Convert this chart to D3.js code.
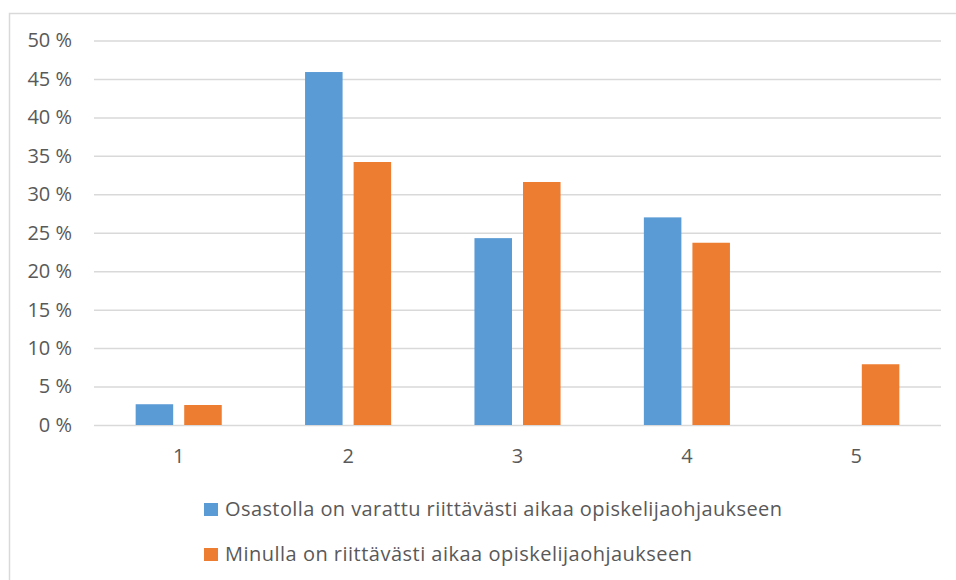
<!DOCTYPE html>
<html>
<head>
<meta charset="utf-8">
<script src="https://cdn.jsdelivr.net/npm/d3@7"></script>
<style>
  html, body { margin: 0; padding: 0; background: #fff; }
  svg { display: block; }
  text { font-family: "Open Sans", "Liberation Sans", sans-serif; fill: #595959; }
</style>
</head>
<body>
<svg id="chart" width="956" height="580"></svg>
<script>
// Vastausvaihtoehdot (asteikko 1–5)
const categories = ["1", "2", "3", "4", "5"];
// Sarjojen nimet
const seriesNames = [
  "Osastolla on varattu riittävästi aikaa opiskelijaohjaukseen",
  "Minulla on riittävästi aikaa opiskelijaohjaukseen"
];
// Vastausten osuudet prosentteina
const osastollaValues = [2.7, 45.9, 24.3, 27.0, 0];
const minullaValues = [2.6, 34.2, 31.6, 23.7, 7.9];
// Y-akselin jakoviivat
const yTicks = [0, 5, 10, 15, 20, 25, 30, 35, 40, 45, 50];

const seriesValues = [osastollaValues, minullaValues];
const colors = ["#5B9BD5", "#ED7D31"];

const svg = d3.select("#chart");

// Kaavion reunus
svg.append("rect")
  .attr("x", 9.5).attr("y", 13.5)
  .attr("width", 960).attr("height", 600)
  .attr("fill", "none")
  .attr("stroke", "#d9d9d9")
  .attr("stroke-width", 1.5);

const plot = { left: 94, right: 941, top: 40.5, bottom: 425 };

const x = d3.scaleBand()
  .domain(categories)
  .range([plot.left, plot.right])
  .padding(0);

const xInner = d3.scaleBand()
  .domain(d3.range(seriesNames.length))
  .range([0, x.bandwidth()])
  .paddingInner(0.227)
  .paddingOuter(0.858);

const y = d3.scaleLinear()
  .domain([0, 50])
  .range([plot.bottom, plot.top]);

// Vaakasuorat apuviivat ja y-akselin nimikkeet
const yAxis = d3.axisLeft(y)
  .tickValues(yTicks)
  .tickSize(-(plot.right - plot.left))
  .tickPadding(22)
  .tickFormat(d => d + "\u00a0%");

const yg = svg.append("g")
  .attr("transform", `translate(${plot.left},0)`)
  .call(yAxis);
yg.select(".domain").remove();
yg.selectAll(".tick line")
  .attr("stroke", "#d9d9d9")
  .attr("stroke-width", 1.5);
yg.selectAll(".tick text")
  .attr("font-size", 20)
  .attr("fill", "#595959");

// Pylväät
const rows = categories.map((c, i) => ({ cat: c, vals: seriesValues.map(s => s[i]) }));

const groups = svg.append("g").selectAll("g")
  .data(rows)
  .join("g")
  .attr("transform", d => `translate(${x(d.cat)},0)`);

groups.selectAll("rect")
  .data(d => d.vals.map((v, k) => ({ k, v })))
  .join("rect")
  .attr("x", d => xInner(d.k))
  .attr("width", xInner.bandwidth())
  .attr("y", d => y(d.v))
  .attr("height", d => y(0) - y(d.v))
  .attr("fill", d => colors[d.k]);

// X-akselin nimikkeet
const xAxis = d3.axisBottom(x).tickSize(0).tickPadding(24);
const xg = svg.append("g")
  .attr("transform", `translate(0,${plot.bottom})`)
  .call(xAxis);
xg.select(".domain").remove();
xg.selectAll(".tick text")
  .attr("font-size", 20)
  .attr("fill", "#595959");

// Selite
const legendLengths = [557, 467];
const legend = svg.append("g").selectAll("g")
  .data(seriesNames)
  .join("g")
  .attr("transform", (d, i) => `translate(204,${503 + i * 45})`);

legend.append("rect")
  .attr("width", 14).attr("height", 13)
  .attr("fill", (d, i) => colors[i]);

legend.append("text")
  .attr("x", 21)
  .attr("y", 12.5)
  .attr("font-size", 20)
  .attr("textLength", (d, i) => legendLengths[i])
  .attr("lengthAdjust", "spacing")
  .text(d => d);
</script>
</body>
</html>
